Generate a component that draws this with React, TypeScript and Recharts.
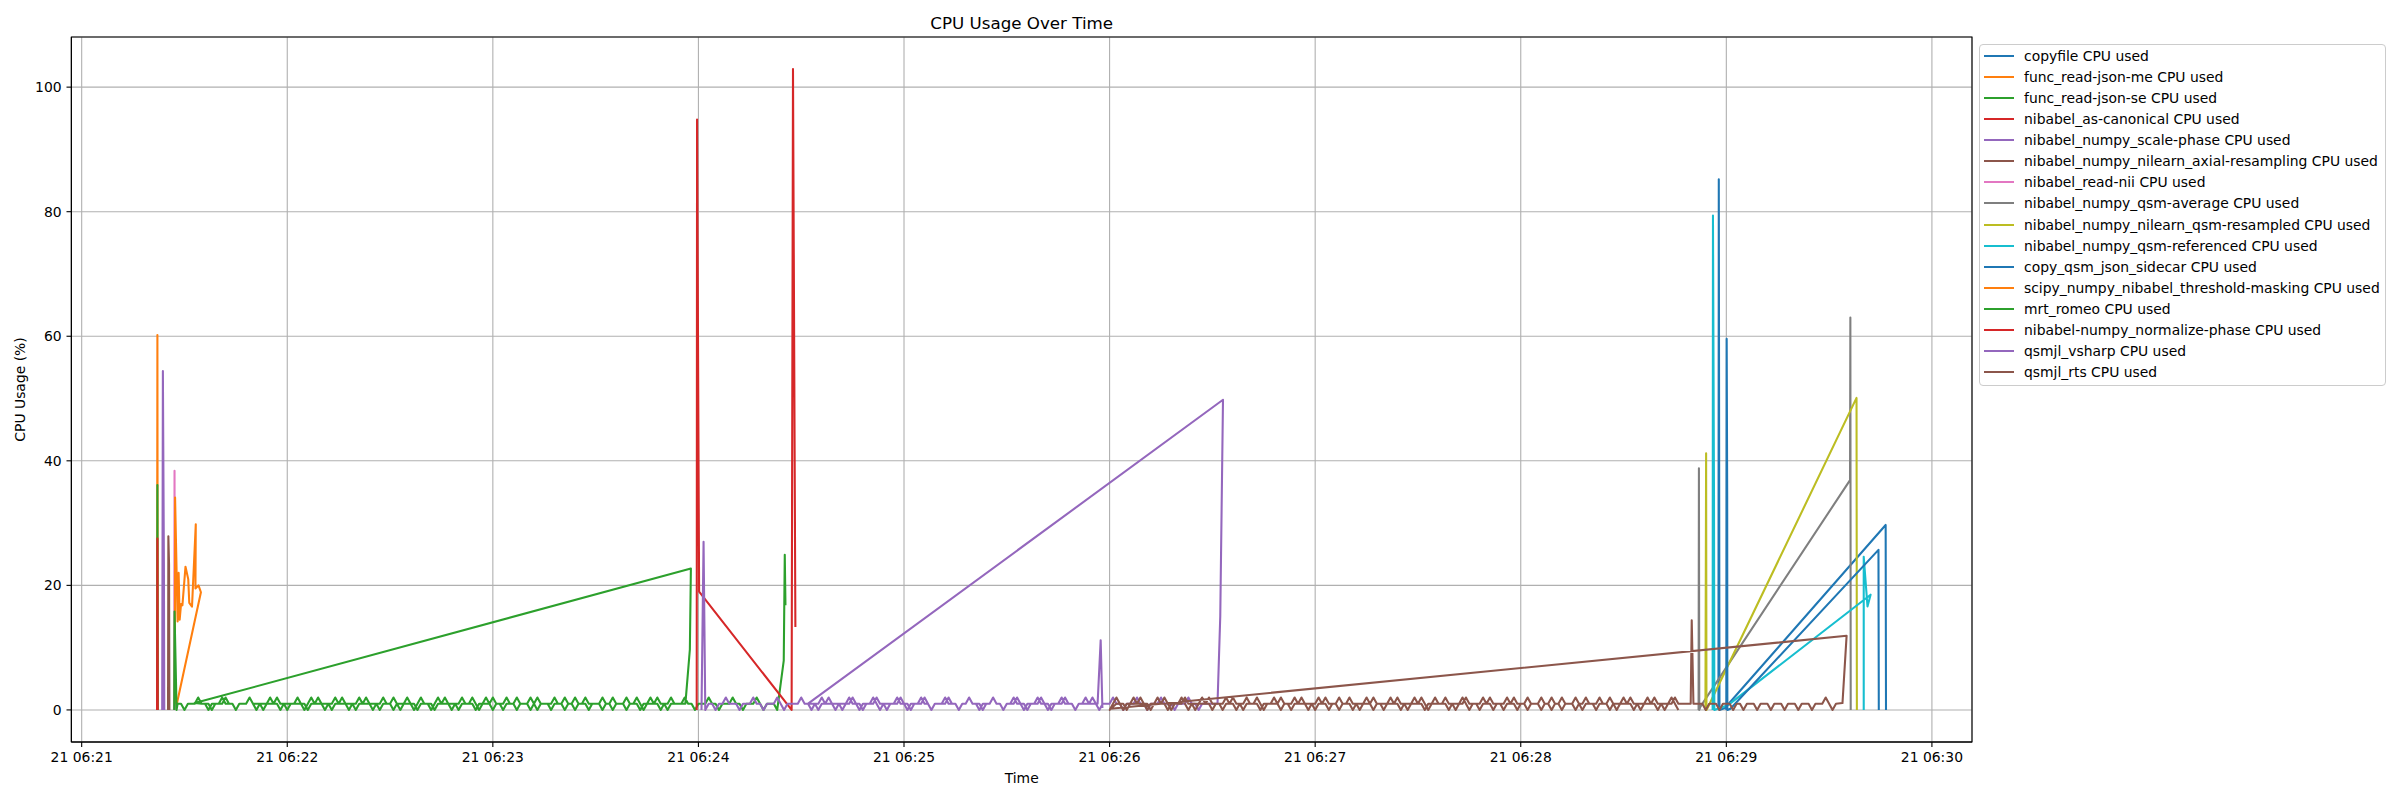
import React from "react";
import { LineChart, Line, XAxis, YAxis, CartesianGrid, ReferenceArea } from "recharts";

type Pt = [number, number];

// time is seconds after 21 06:21:00
const xTicks = [0, 60, 120, 180, 240, 300, 360, 420, 480, 540];
const xTickLabels = [
  "21 06:21", "21 06:22", "21 06:23", "21 06:24", "21 06:25",
  "21 06:26", "21 06:27", "21 06:28", "21 06:29", "21 06:30",
];
const yTicks = [0, 20, 40, 60, 80, 100];
const X_DOMAIN: [number, number] = [-3.0, 551.7];
const Y_DOMAIN: [number, number] = [-5.15, 108.05];

const seriesNames = [
  "copyfile CPU used",
  "func_read-json-me CPU used",
  "func_read-json-se CPU used",
  "nibabel_as-canonical CPU used",
  "nibabel_numpy_scale-phase CPU used",
  "nibabel_numpy_nilearn_axial-resampling CPU used",
  "nibabel_read-nii CPU used",
  "nibabel_numpy_qsm-average CPU used",
  "nibabel_numpy_nilearn_qsm-resampled CPU used",
  "nibabel_numpy_qsm-referenced CPU used",
  "copy_qsm_json_sidecar CPU used",
  "scipy_numpy_nibabel_threshold-masking CPU used",
  "mrt_romeo CPU used",
  "nibabel-numpy_normalize-phase CPU used",
  "qsmjl_vsharp CPU used",
  "qsmjl_rts CPU used",
];

const seriesColors = [
  "#1f77b4", "#ff7f0e", "#2ca02c", "#d62728", "#9467bd", "#8c564b", "#e377c2", "#7f7f7f",
  "#bcbd22", "#17becf", "#1f77b4", "#ff7f0e", "#2ca02c", "#d62728", "#9467bd", "#8c564b",
];

// idle readings, one per second
const romeoIdleA = [
  1, 1, 0, 1, 1, 1, 2, 1, 1, 0, 1, 1, 1, 1, 2, 1, 1, 0, 1, 1,
  1, 2, 1, 1, 1, 0, 1, 1, 1, 2, 1, 1, 0, 1, 1, 1, 1, 0, 1, 2,
  1, 1, 1, 0, 1, 1, 2, 1, 1, 1, 0, 1, 1, 2, 1, 1, 1, 0, 1, 1,
  2, 1, 1, 0, 1, 1, 1, 2, 1, 1, 0, 1, 1, 1, 0, 1, 2, 1, 1, 1,
  0, 1, 1, 2, 1, 1, 1, 0, 1, 1, 2, 1, 0, 1, 1, 1, 2, 1, 1, 0,
  1, 1, 1, 2, 1, 0, 1, 1, 1, 1, 2, 1, 1, 0, 1, 1, 2, 1, 1, 1,
  0, 1, 1, 1, 2, 1, 1, 0, 1, 1, 1, 2, 1, 1, 1, 0, 1, 1, 2, 1,
  1, 0, 1, 1, 2, 1, 1, 1,
];
const romeoIdleB = [
  1, 1, 1, 0, 1, 1, 2, 1, 1, 1, 0, 1, 1, 1, 2, 1, 0, 1, 1, 1,
  2, 1, 1, 0, 1, 1, 1, 1, 2, 1, 1, 0, 1, 1, 2, 1, 1, 1, 0, 1,
  1, 2, 1, 1, 1, 0, 1, 1, 2, 1, 1, 1, 0, 1, 1, 1, 2, 1, 0, 1,
  1, 1, 0, 1, 2, 1, 1, 1, 0, 1, 1, 2, 1, 1, 1, 0, 1, 1, 1, 2,
  1, 0, 1, 1, 1, 2, 1, 1, 0, 1, 1, 1, 2, 1, 1, 1, 0, 1, 2, 1,
  1, 1, 0, 1, 1, 1, 2, 1, 1, 0, 1, 1, 2, 1, 1, 1, 1, 0, 1, 1,
  2, 1, 1, 1, 0, 1, 1, 2, 1, 0, 1, 1, 1, 2, 1, 1, 0, 1, 1, 1,
  1, 2, 1, 1, 0, 1, 1, 1, 2, 1, 1, 0, 1, 1, 1, 2, 1, 1, 0, 1,
  1, 1, 2, 1, 0, 1, 1, 1, 0,
];
const vsharpIdleA = [
  1, 1, 0, 1, 1, 2, 1, 1, 1, 0, 1, 1, 1, 2, 1, 1, 0, 1, 1, 1,
  2, 1, 0, 1, 1, 1, 1, 2, 1, 1, 0, 1, 1, 2, 1, 1, 1, 0, 1, 1,
  1, 2, 1, 1, 0, 1, 1, 1, 2, 1, 0, 1, 1, 1, 1, 2, 1, 1, 0, 1,
  1, 1, 2, 1, 1, 0, 1, 1, 1, 2, 1, 1, 1, 0, 1, 1, 2, 1, 1, 0,
  1, 1, 1, 2, 1, 1, 0, 1, 1, 2, 1, 1, 1, 0, 1, 1, 1, 2, 1, 1,
  0, 1, 1, 1, 2, 1, 1, 0, 1, 1, 1, 1, 2, 1, 0, 1, 1, 1, 2, 1,
  1, 0, 1, 1, 1, 2, 1, 1, 0, 1, 1, 1, 2, 1, 1, 1, 0, 1, 1, 1,
  2, 1, 1, 0, 1, 1, 1, 1,
];
const vsharpIdleB = [
  1, 0, 1, 1, 2, 1, 1, 1, 0, 1, 1, 2, 1, 1, 0, 1, 1, 1, 2, 1,
  1, 0, 1, 1, 1, 2, 1, 1, 0, 1, 1, 1, 2, 1, 0, 1, 1, 1, 1, 2,
  1, 1, 0, 1, 1, 2, 1, 1, 1, 0, 1, 1, 2, 1, 1, 0, 1, 1, 1, 2,
  1, 0, 1, 1, 1, 2, 1, 1, 0, 1, 1, 1, 2, 1, 1, 1, 0, 1, 1, 2,
  1, 1,
];
const rtsIdleA = [
  0, 1, 2, 1, 1, 0, 1, 1, 1, 2, 1, 1, 0, 1, 1, 1, 2, 1, 0, 1,
  1, 1, 2, 1, 1, 0, 1, 1, 1, 2, 1, 1, 1, 0, 1, 1, 2, 1, 1, 0,
  1, 1, 1, 2, 1, 0, 1, 1, 1, 1, 2, 1, 1, 0, 1, 1, 2, 1, 1, 1,
  0, 1, 1, 2, 1, 1, 1, 0, 1, 1, 2, 1, 1, 0, 1, 1, 1, 2, 1, 1,
  0, 1, 1, 1, 2, 1, 1, 0, 1, 1, 1, 2, 1, 0, 1, 1, 1, 1, 2, 1,
  1, 0, 1, 1, 2, 1, 1, 1, 0, 1, 1, 2, 1, 1, 1, 0, 1, 1, 2, 1,
  1, 1, 0, 1, 1, 1, 2, 1, 1, 0, 1, 1, 2, 1, 1, 1, 0, 1, 1, 2,
  1, 1, 0, 1, 1, 1, 2, 1, 0, 1, 1, 1, 2, 1, 1, 0, 1, 1, 1, 2,
  1, 1, 0, 1, 1, 2, 1, 1, 1,
];
const rtsIdleTail = [
  1, 1, 0, 1, 1, 1, 0, 1, 1, 1, 0, 1, 1, 0, 1, 1, 1, 0, 1, 1,
  1, 0, 1, 1, 1, 0, 1, 1, 1, 0, 1, 1, 1, 0, 1, 1, 1, 2, 1, 0,
  1,
];
const rtsIdleB = [
  1, 1, 0, 1, 1, 2, 1, 1, 1, 0, 1, 1, 2, 1, 1, 0, 1, 1, 1, 2,
  1, 0, 1, 1, 1, 2, 1, 1, 0, 1, 1, 1, 2, 1, 1, 0, 1, 1, 2, 1,
  1, 1, 0, 1, 1, 1, 2, 1, 0, 1, 1, 1, 2, 1, 1, 1, 0, 1, 1, 2,
  1, 1, 0, 1, 1, 2, 1, 1, 1, 0, 1, 1, 1, 2, 1, 0, 1, 1, 1, 1,
  2, 1, 1, 0, 1, 1, 1, 2, 1, 1, 0, 1, 1, 2, 1, 1, 1, 0, 1, 1,
  1, 2, 1, 0, 1, 1, 1, 2, 1, 1, 0, 1, 1, 1, 2, 1, 1, 0, 1, 1,
  2, 1, 1, 1, 0, 1, 1, 2, 1, 1, 0, 1, 1, 1, 2, 1, 0, 1, 1, 1,
  1, 2, 1, 1, 0, 1, 1, 1, 2, 1, 1, 0, 1, 1, 1, 2, 1, 1, 0, 1,
  1, 1, 2, 1, 0,
];

const sampled = (start: number, step: number, vals: number[]): Pt[] =>
  vals.map((v, i) => [start + i * step, v]);

const copyfile: Pt[] = [[477.7, 0], [477.8, 85.2], [478.0, 0], [479.6, 0.3], [526.5, 29.7], [526.6, 0]];
const readJsonMe: Pt[] = [[22.0, 0], [22.1, 60.2], [22.2, 0]];
const readJsonSe: Pt[] = [[22.0, 0], [22.1, 36.1], [22.2, 0]];
const asCanonical: Pt[] = [[22.0, 0], [22.1, 27.5], [22.2, 0]];
const scalePhase: Pt[] = [[23.5, 0], [23.7, 54.4], [24.0, 23.3], [24.1, 0]];
const axialResampling: Pt[] = [[25.2, 0], [25.3, 27.9], [25.5, 23.3], [25.6, 0]];
const readNii: Pt[] = [[27.0, 0], [27.1, 38.4], [27.2, 0]];
const qsmAverage: Pt[] = [[471.9, 0], [472.0, 38.8], [472.1, 0], [472.4, 0.5], [516.1, 36.9], [516.2, 63.0], [516.3, 0]];
const qsmResampled: Pt[] = [[473.9, 0], [474.1, 41.2], [474.2, 0], [474.7, 0.5], [518.0, 50.1], [518.1, 0]];
const qsmReferenced: Pt[] = [
  [476.0, 0], [476.1, 79.4], [476.4, 34.6], [476.5, 0], [480.6, 0.8],
  [522.1, 18.5], [521.2, 16.6], [520.1, 24.6], [520.1, 0],
];
const jsonSidecar: Pt[] = [[480.0, 0], [480.1, 59.6], [480.25, 34.1], [480.3, 0], [481.2, 0.2], [524.4, 25.7], [524.5, 0]];
const thresholdMasking: Pt[] = [
  [27.2, 1], [27.26, 34.1], [28.0, 14.2], [28.3, 22.0], [28.6, 14.5], [29.0, 17.0], [29.4, 16.8],
  [30.3, 23.0], [31.1, 21.0], [31.4, 17.2], [32.2, 16.6], [33.3, 29.8], [33.2, 19.5],
  [34.1, 20.0], [34.8, 18.9], [27.7, 0.8],
];
const mrtRomeo: Pt[] = [
  [27.0, 0], [27.1, 15.8], [27.7, 0],
  ...sampled(28, 1, romeoIdleA),
  [176.2, 1], [177.5, 9.7], [177.8, 22.7],
  [33.0, 1.1],
  ...sampled(35, 1, romeoIdleB),
  [204.9, 7.9], [205.2, 24.9], [205.4, 16.8],
];
const normalizePhase: Pt[] = [[179.5, 0], [179.6, 94.8], [180.2, 19.0], [207.2, 0], [207.6, 102.9], [208.3, 13.3]];
const vsharp: Pt[] = [
  [180.9, 0], [181.5, 27.0], [182.0, 0],
  ...sampled(183, 1, vsharpIdleA),
  [331.5, 1], [332.3, 15.0], [333.1, 49.8],
  [212.0, 1],
  ...sampled(214, 1, vsharpIdleB),
  [296.5, 1], [297.4, 11.2], [297.9, 0.3],
];
const rts: Pt[] = [
  [299.8, 0],
  ...sampled(300, 1, rtsIdleA),
  [469.6, 1], [469.9, 14.4], [470.4, 1],
  ...sampled(472, 1, rtsIdleTail),
  [513.9, 1.1], [515.1, 11.9],
  [300.3, 0.2],
  ...sampled(302, 1, rtsIdleB),
];

const seriesPoints: Pt[][] = [
  copyfile, readJsonMe, readJsonSe, asCanonical, scalePhase, axialResampling, readNii,
  qsmAverage, qsmResampled, qsmReferenced, jsonSidecar, thresholdMasking, mrtRomeo,
  normalizePhase, vsharp, rts,
];

const FONT = "DejaVu Sans";
const tickStyle = { fill: "#000", fontSize: 13.9, fontFamily: FONT };

function LegendBox() {
  return (
    <div
      style={{
        position: "absolute",
        left: 1979,
        top: 44,
        width: 405,
        height: 340,
        border: "1px solid #cccccc",
        borderRadius: 4,
        background: "rgba(255,255,255,0.8)",
        fontFamily: FONT,
        fontSize: 13.9,
        color: "#000",
      }}
    >
      {seriesNames.map((name, i) => (
        <div
          key={name}
          style={{
            position: "absolute",
            left: 0,
            top: 0.2 + i * 21.1,
            height: 21.1,
            display: "flex",
            alignItems: "center",
            whiteSpace: "nowrap",
          }}
        >
          <div style={{ marginLeft: 4, width: 30, height: 2.1, background: seriesColors[i] }} />
          <span style={{ marginLeft: 10, lineHeight: "16px" }}>{name}</span>
        </div>
      ))}
    </div>
  );
}

export default function App() {
  return (
    <div style={{ position: "fixed", left: 0, top: 0, width: 2400, height: 800, background: "#fff" }}>
      <LineChart width={2400} height={800} margin={{ top: 37, right: 428, bottom: 0, left: 0 }}>
        <CartesianGrid stroke="#b0b0b0" strokeWidth={1.1} />
        <XAxis
          dataKey="t"
          type="number"
          domain={X_DOMAIN}
          allowDataOverflow
          ticks={xTicks}
          tickFormatter={(t: number) => xTickLabels[xTicks.indexOf(t)] ?? ""}
          height={58}
          tickSize={4.9}
          tickMargin={5}
          tick={tickStyle}
          axisLine={{ stroke: "#000", strokeWidth: 1.1 }}
          tickLine={{ stroke: "#000", strokeWidth: 1.1 }}
          interval={0}
        />
        <YAxis
          type="number"
          domain={Y_DOMAIN}
          allowDataOverflow
          ticks={yTicks}
          width={71.4}
          tickSize={4.9}
          tickMargin={4.9}
          tick={tickStyle}
          axisLine={{ stroke: "#000", strokeWidth: 1.1 }}
          tickLine={{ stroke: "#000", strokeWidth: 1.1 }}
          interval={0}
        />
        {seriesPoints.map((pts, i) => (
          <Line
            key={seriesNames[i]}
            name={seriesNames[i]}
            data={pts.map(([t, v]) => ({ t, v }))}
            dataKey="v"
            type="linear"
            stroke={seriesColors[i]}
            strokeWidth={2.08}
            strokeLinejoin="round"
            dot={false}
            activeDot={false}
            isAnimationActive={false}
          />
        ))}
        <ReferenceArea
          x1={X_DOMAIN[0]}
          x2={X_DOMAIN[1]}
          y1={Y_DOMAIN[0]}
          y2={Y_DOMAIN[1]}
          fill="none"
          stroke="#000"
          strokeWidth={1.1}
          ifOverflow="visible"
        />
      </LineChart>
      <svg
        width={2400}
        height={800}
        style={{ position: "absolute", left: 0, top: 0, pointerEvents: "none" }}
        fontFamily={FONT}
      >
        <text x={1021.7} y={28.7} fontSize={16.7} textAnchor="middle" fill="#000">
          CPU Usage Over Time
        </text>
        <text x={1021.7} y={782.6} fontSize={13.9} textAnchor="middle" fill="#000">
          Time
        </text>
        <text x={25} y={389.5} fontSize={13.9} textAnchor="middle" fill="#000" transform="rotate(-90 25 389.5)">
          CPU Usage (%)
        </text>
      </svg>
      <LegendBox />
    </div>
  );
}
